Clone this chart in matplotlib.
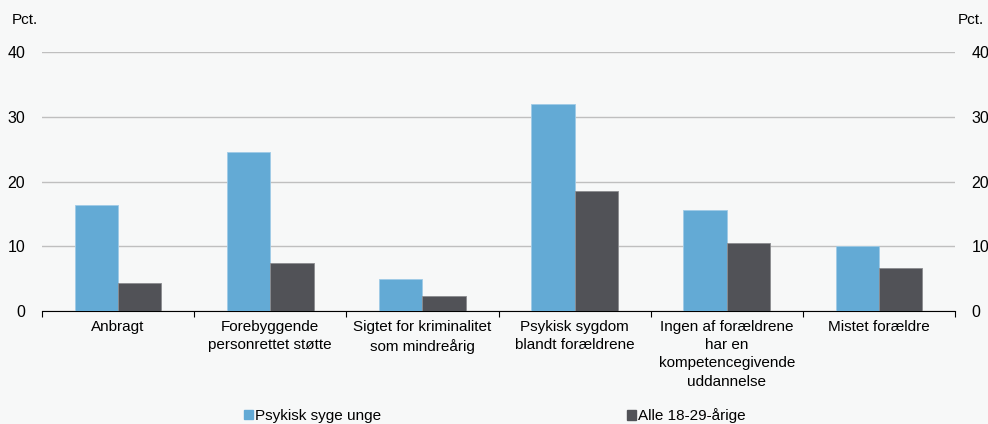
import numpy as np
import matplotlib.pyplot as plt
from matplotlib.patches import Patch

plt.rcParams['font.family'] = ['Liberation Sans', 'DejaVu Sans']

categories = ['Anbragt', 'Forebyggende\npersonrettet støtte', 'Sigtet for kriminalitet\nsom mindreårig',
              'Psykisk sygdom\nblandt forældrene', 'Ingen af forældrene\nhar en\nkompetencegivende\nuddannelse',
              'Mistet forældre']
psykisk_syge = [16.3, 24.6, 5.0, 31.9, 15.6, 10.1]
alle_18_29 = [4.4, 7.4, 2.3, 18.6, 10.5, 6.7]
series_names = ['Psykisk syge unge', 'Alle 18-29-årige']

blue = '#63aad5'
dark = '#515257'
bg = '#f7f8f8'

fig = plt.figure(figsize=(9.88, 4.24), dpi=100, facecolor=bg)
ax = fig.add_axes([42/988, 1-311/424, (955-42)/988, (311-52)/424], facecolor=bg)

x = np.arange(len(categories))
w = 0.285
ax.bar(x - w/2, psykisk_syge, w, color=blue, edgecolor='#9fcbe6', linewidth=0.6, zorder=3)
ax.bar(x + w/2, alle_18_29, w, color=dark, edgecolor='#8a8b8f', linewidth=0.6, zorder=3)

ax.set_xlim(-0.5, len(categories) - 0.5)
ax.set_ylim(0, 40)
ax.set_yticks([0, 10, 20, 30, 40])
ax.yaxis.grid(True, color='#bfbfbf', linewidth=1)
ax.set_axisbelow(True)
for s in ['top', 'left', 'right']:
    ax.spines[s].set_visible(False)
ax.spines['bottom'].set_color('black')
ax.tick_params(axis='y', length=0, labelsize=11.5, pad=12, labelleft=True, labelright=True)

ax.set_xticks(np.arange(len(categories) + 1) - 0.5)
ax.set_xticklabels([])
ax.tick_params(axis='x', which='major', length=4, direction='out', color='black')
ax.set_xticks(x, minor=True)
ax.set_xticklabels(categories, minor=True, fontsize=11, linespacing=1.38)
ax.tick_params(axis='x', which='minor', length=0, pad=6.5)

fig.text(12/988, 1-20/424, 'Pct.', fontsize=11, va='center', ha='left')
fig.text(984/988, 1-20/424, 'Pct.', fontsize=11, va='center', ha='right')

handles = [Patch(color=blue), Patch(color=dark)]
fig.legend(handles[:1], [series_names[0]], loc='center left', bbox_to_anchor=(244/988, 1-416/424),
           frameon=False, fontsize=11, handlelength=0.6, handleheight=0.6, handletextpad=0.15,
           borderaxespad=0, borderpad=0)
fig.legend(handles[1:], [series_names[1]], loc='center left', bbox_to_anchor=(627/988, 1-416/424),
           frameon=False, fontsize=11, handlelength=0.6, handleheight=0.6, handletextpad=0.15,
           borderaxespad=0, borderpad=0)

fig.savefig('out.png', dpi=100, facecolor=bg)
